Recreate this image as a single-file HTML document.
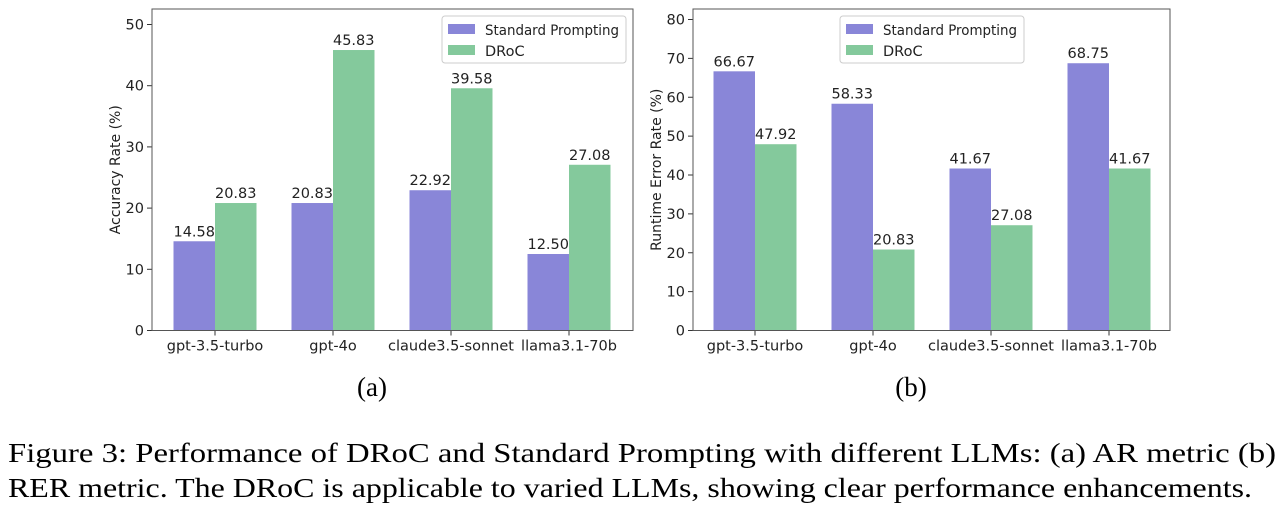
<!DOCTYPE html>
<html><head><meta charset="utf-8"><style>
body{margin:0;background:#fff;width:1285px;height:508px;overflow:hidden}
svg text{font-family:"DejaVu Sans",sans-serif;fill:#222}
.cap{font-family:"Liberation Serif",serif;font-size:27px;fill:#000}
</style></head><body>
<svg width="1285" height="508">
<g id="chartA"></g>
<g id="chartB"></g>
<text class="cap" x="372" y="396" text-anchor="middle">(a)</text>
<text class="cap" x="911" y="396" text-anchor="middle">(b)</text>
<text class="cap" x="8" y="462" textLength="1268" lengthAdjust="spacingAndGlyphs">Figure 3: Performance of DRoC and Standard Prompting with different LLMs: (a) AR metric (b)</text>
<text class="cap" x="8" y="497" textLength="1244" lengthAdjust="spacingAndGlyphs">RER metric. The DRoC is applicable to varied LLMs, showing clear performance enhancements.</text>
</svg>
<script>
const categories=["gpt-3.5-turbo","gpt-4o","claude3.5-sonnet","llama3.1-70b"];
const arStandard=[14.58,20.83,22.92,12.50];
const arDroc=[20.83,45.83,39.58,27.08];
const rerStandard=[66.67,58.33,41.67,68.75];
const rerDroc=[47.92,20.83,27.08,41.67];
const arTicks=[0,10,20,30,40,50];
const rerTicks=[0,10,20,30,40,50,60,70,80];
const NS="http://www.w3.org/2000/svg";
function mk(p,t,a){const e=document.createElementNS(NS,t);for(const k in a)e.setAttribute(k,a[k]);p.appendChild(e);return e;}
function draw(g,cfg){
 const L=cfg.left,W=cfg.w,T=9,B=330.5;
 const y=v=>B-(v-cfg.min)/(cfg.max-cfg.min)*(B-cfg.yTop);
 const cx=i=>cfg.c0+i*118, bw=41.5;
 cfg.ticks.forEach(t=>{
  const l=mk(g,'line',{x1:L-5,x2:L,y1:y(t),y2:y(t),stroke:'#333'});
  
  const tx=mk(g,'text',{x:L-8,y:y(t)+5,'text-anchor':'end','font-size':14.5});tx.textContent=t;
  
 });
 [cfg.s1,cfg.s2].forEach((s,si)=>s.forEach((v,i)=>{
  const x=cx(i)+(si?0:-bw);
  const r=mk(g,'rect',{x:x,y:y(v),width:bw,height:B-y(v),fill:si?'#84c99c':'#8986d8'});
  
  const t=mk(g,'text',{x:x+bw/2,y:y(v)-5,'text-anchor':'middle','font-size':14.5});t.textContent=v.toFixed(2);
  
 }));
 categories.forEach((c,i)=>{
  mk(g,'line',{x1:cx(i),x2:cx(i),y1:B,y2:B+5,stroke:'#333'});
  const t=mk(g,'text',{x:cx(i),y:B+20,'text-anchor':'middle','font-size':14.5});t.textContent=c;
  
 });
 const f=mk(g,'rect',{x:L,y:T,width:W,height:B-T,fill:'none',stroke:'#555','stroke-width':1});
 
 const yl=mk(g,'text',{transform:`translate(${L-32},${(T+B)/2}) rotate(-90)`,'text-anchor':'middle','font-size':14});yl.textContent=cfg.label;
 
 const lg=mk(g,'g',{});
 
 const lx=cfg.legX;
 mk(lg,'rect',{x:lx,y:16,width:cfg.legW,height:47,rx:3,fill:'#fff',stroke:'#ccc'});
 mk(lg,'rect',{x:lx+6,y:24,width:27,height:10,fill:'#8986d8'});
 mk(lg,'rect',{x:lx+6,y:45,width:27,height:10,fill:'#84c99c'});
 const a=mk(lg,'text',{x:lx+43,y:35,'font-size':14.5,textLength:134,lengthAdjust:'spacingAndGlyphs'});a.textContent='Standard Prompting';
 
 const b=mk(lg,'text',{x:lx+43,y:56,'font-size':14.5});b.textContent='DRoC';
 
}
draw(document.getElementById('chartA'),{left:152,w:481,c0:215,min:0,max:50,yTop:24.5,ticks:arTicks,s1:arStandard,s2:arDroc,label:'Accuracy Rate (%)',legX:442,legW:184});
draw(document.getElementById('chartB'),{left:693,w:477,c0:755,min:0,max:80,yTop:19.5,ticks:rerTicks,s1:rerStandard,s2:rerDroc,label:'Runtime Error Rate (%)',legX:840,legW:184});
</script>
</body></html>
